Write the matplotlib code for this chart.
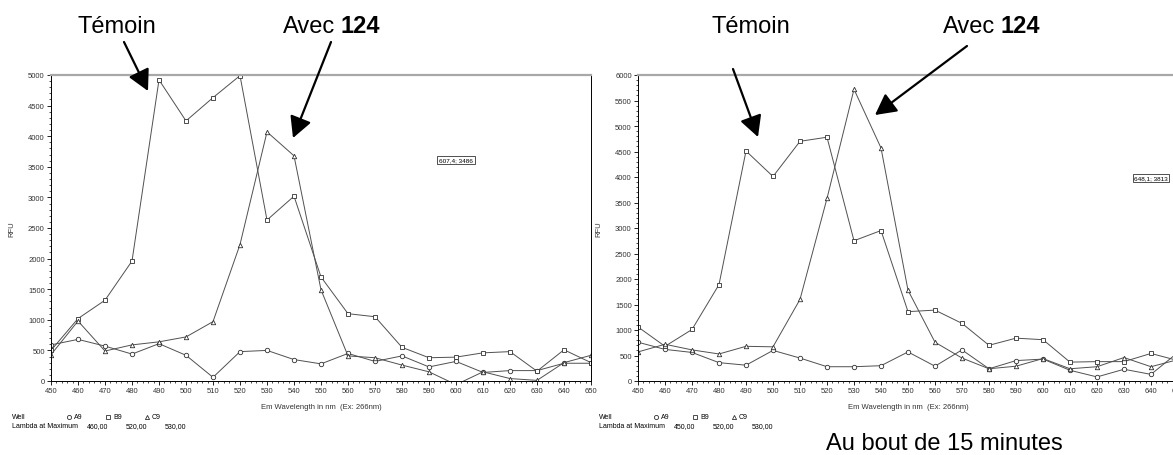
import numpy as np
import matplotlib.pyplot as plt
from matplotlib.ticker import MultipleLocator
from matplotlib.lines import Line2D

plt.rcParams['font.family'] = ['Liberation Sans', 'DejaVu Sans']

W, H = 1173, 456

wavelengths = np.arange(450, 651, 10)

# start of reaction (left panel)
a9_start = [590, 680, 570, 440, 610, 420, 60, 480, 500, 350,
            280, 450, 320, 410, 230, 320, 140, 170, 170, 290, 290]
b9_start = [500, 1020, 1320, 1960, 4920, 4250, 4630, 4990, 2630, 3020,
            1700, 1100, 1050, 550, 380, 390, 460, 480, 160, 510, 300]
c9_start = [430, 980, 490, 590, 640, 720, 970, 2230, 4070, 3680,
            1490, 410, 380, 260, 150, -60, 150, 40, 10, 300, 420]

# after 15 minutes (right panel)
a9_end = [760, 620, 560, 360, 310, 600, 450, 280, 280, 300,
          570, 290, 610, 240, 400, 430, 210, 80, 230, 130, 560]
b9_end = [1060, 680, 1010, 1890, 4510, 4010, 4700, 4780, 2750, 2950,
          1360, 1390, 1130, 700, 840, 810, 370, 380, 380, 540, 400]
c9_end = [570, 720, 610, 530, 680, 670, 1600, 3580, 5720, 4570,
          1780, 760, 450, 240, 290, 440, 240, 280, 460, 280, 420]

wells = ['A9', 'B9', 'C9']
markers = ['o', 's', '^']
lambda_start = ['460,00', '520,00', '530,00']
lambda_end = ['450,00', '520,00', '530,00']
cursor_start = '607,4; 3486'
cursor_end = '648,1; 3813'


def fpx(x, y):
    # image pixel (top-left origin) -> figure fraction
    return x / W, (H - y) / H


def draw_panel(fig, left_px, ymax, series, lambdas, cursor, cursor_pos, x0):
    ax = fig.add_axes([left_px / W, (H - 382) / H, 540 / W, 306 / H])
    for vals, m in zip(series, markers):
        ax.plot(wavelengths, vals, color='#505050', lw=0.7, marker=m, ms=3.2,
                mfc='white', mec='#303030', mew=0.6)
    ax.set_xlim(450, 650)
    ax.set_ylim(0, ymax)
    ax.xaxis.set_major_locator(MultipleLocator(10))
    ax.xaxis.set_minor_locator(MultipleLocator(2))
    ax.yaxis.set_major_locator(MultipleLocator(500))
    ax.yaxis.set_minor_locator(MultipleLocator(100))
    ax.tick_params(which='major', length=3, width=0.6, labelsize=5.5, pad=1.5,
                   labelcolor='#333333')
    ax.tick_params(which='minor', length=1.6, width=0.5)
    for s in ['left', 'bottom', 'right']:
        ax.spines[s].set_linewidth(0.7)
    ax.spines['top'].set_color('#a8a8a8')
    ax.spines['top'].set_linewidth(1.6)
    ax.set_ylabel('RFU', fontsize=5.5, labelpad=9, color='#333333')
    ax.set_xlabel('Em Wavelength in nm  (Ex: 266nm)', fontsize=5.5, labelpad=6,
                  color='#333333')
    ax.text(cursor_pos[0], cursor_pos[1], cursor, transform=ax.transAxes,
            fontsize=4.6, ha='center', va='center',
            bbox=dict(boxstyle='square,pad=0.25', fc='white', ec='#333333', lw=0.6))

    # footer legend
    fs = 5
    fig.text(*fpx(x0, 418), 'Well', fontsize=fs, va='center')
    for i, (w, m) in enumerate(zip(wells, markers)):
        mx = x0 + 57 + i * 39
        fig.add_artist(Line2D([fpx(mx, 418)[0]], [fpx(mx, 418)[1]],
                              transform=fig.transFigure, marker=m, ms=3,
                              mfc='white', mec='#303030', mew=0.6, ls='none'))
        fig.text(*fpx(mx + 5, 418), w, fontsize=fs, va='center')
        fig.text(*fpx(x0 + 75 + i * 39, 427), lambdas[i], fontsize=fs, va='center')
    fig.text(*fpx(x0, 427), 'Lambda at Maximum', fontsize=fs, va='center')
    return ax


def arrow(fig, start, tip):
    fig.add_artist(plt.matplotlib.patches.FancyArrowPatch(
        fpx(*start), fpx(*tip), transform=fig.transFigure,
        arrowstyle='-|>,head_length=0.85,head_width=0.45', mutation_scale=15,
        color='black', lw=1.6, shrinkA=0, shrinkB=0))


def label(fig, x_left, avec_right):
    fig.text(*fpx(x_left, 33), 'Témoin', fontsize=17, va='baseline')
    fig.text(*fpx(avec_right, 33), 'Avec', fontsize=17, va='baseline', ha='right')
    fig.text(*fpx(avec_right + 6, 33), '124', fontsize=17, va='baseline',
             fontweight='bold')


fig = plt.figure(figsize=(W / 100, H / 100), dpi=100)

draw_panel(fig, 51, 5000, [a9_start, b9_start, c9_start], lambda_start,
           cursor_start, (0.75, 0.722), 12)
draw_panel(fig, 638, 6000, [a9_end, b9_end, c9_end], lambda_end,
           cursor_end, (0.95, 0.663), 599)

label(fig, 77, 335)
label(fig, 712, 995)
arrow(fig, (124, 43), (148, 92))
arrow(fig, (331, 43), (293, 139))
arrow(fig, (733, 70), (758, 138))
arrow(fig, (967, 47), (875, 116))

fig.text(*fpx(826, 450), 'Au bout de 15 minutes', fontsize=17, va='baseline')

fig.savefig('out.png', dpi=100)
